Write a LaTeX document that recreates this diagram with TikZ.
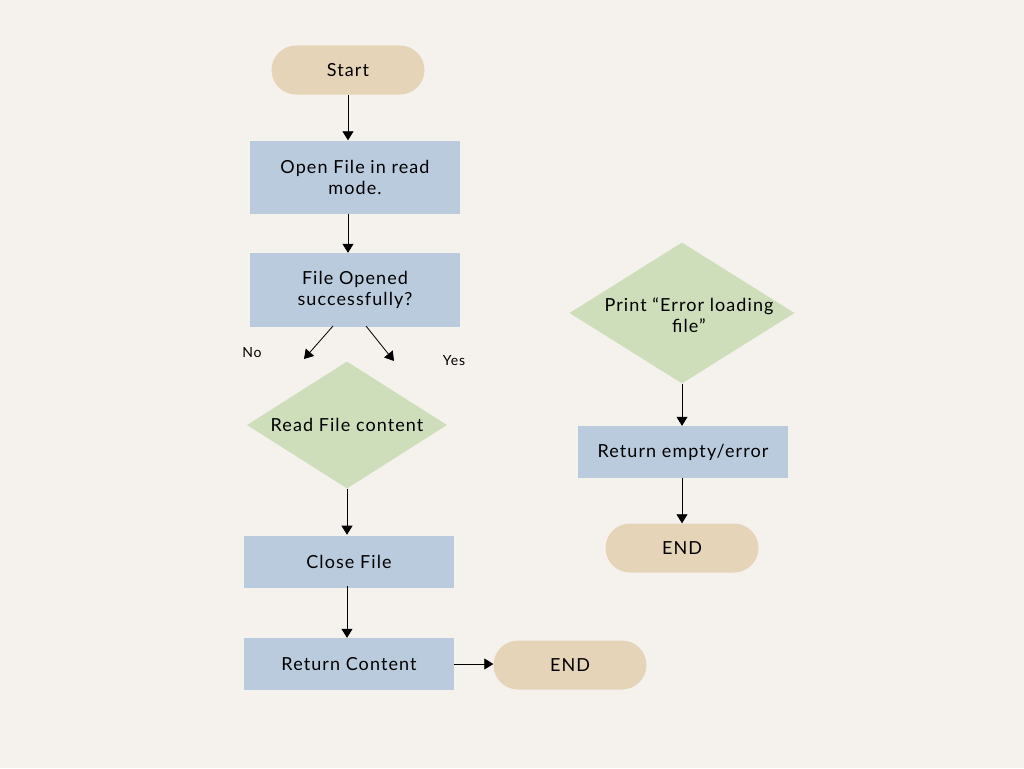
\documentclass[tikz,border=0pt]{standalone}
\usepackage{fontspec}
\setmainfont[LetterSpace=6]{Lato}
\usetikzlibrary{arrows.meta,shapes.geometric}

\definecolor{bgcol}{HTML}{F5F2EE}
\definecolor{pillcol}{HTML}{E6D4B9}
\definecolor{boxcol}{HTML}{BACBDE}
\definecolor{diacol}{HTML}{CEDDBA}

\begin{document}
\begin{tikzpicture}[x=1pt,y=-1pt,
    font=\fontsize{18}{21}\selectfont,
    pill/.style={fill=pillcol,rounded corners=24.5pt,minimum width=153pt,minimum height=49pt,inner sep=0pt},
    box/.style={fill=boxcol,minimum width=210pt,inner sep=0pt,align=center},
    dia/.style={diamond,fill=diacol,inner sep=0pt,align=center},
    lbl/.style={font=\fontsize{14}{16}\selectfont},
    arr/.style={-{Triangle[length=9pt,width=11pt]},line width=0.8pt}]
  % background
  \fill[bgcol] (0,0) rectangle (1024,768);
  \useasboundingbox (0,0) rectangle (1024,768);

  % left column
  \node[pill] (start) at (348,70) {Start};
  \node[box,minimum height=73pt] (open) at (355,177) {Open File in read\\mode.};
  \node[box,minimum height=74pt] (ok) at (355,290) {File Opened\\successfully?};
  \node[dia,minimum width=200pt,minimum height=127pt,aspect=1.575] (read) at (347,425) {Read File content};
  \node[box,minimum height=52pt] (close) at (349,562) {Close File};
  \node[box,minimum height=52pt] (ret) at (349,664) {Return Content};
  \node[pill] (end1) at (570,665) {END};

  % right column
  \node[dia,minimum width=225pt,minimum height=141pt,aspect=1.6] (print) at (682,313) {};
  \node[align=center] (printtxt) at (689,315) {Print “Error loading\\file”};
  \node[box,minimum height=52pt] (retempty) at (683,452) {Return empty/error};
  \node[pill] (end2) at (682,548) {END};

  % labels
  \node[lbl] (no) at (252,353) {No};
  \node[lbl] (yes) at (454,361) {Yes};
  \coordinate (nofrom) at (333,326);
  \coordinate (noto) at (304,359);
  \coordinate (yesfrom) at (366,326);
  \coordinate (yesto) at (394,361);

  % arrows
  \draw[arr] (start.south -| 348,0) -- (open.north -| 348,0);
  \draw[arr] (open.south -| 348,0) -- (ok.north -| 348,0);
  \draw[arr] (nofrom) -- (noto);
  \draw[arr] (yesfrom) -- (yesto);
  \draw[arr] (read.south) -- ++(0,46);
  \draw[arr] ([yshift=2pt]close.south -| 347,0) -- (ret.north -| 347,0);
  \draw[arr] (ret.east) -- (ret.east -| end1.west);
  \draw[arr] (print.south) -- (print.south |- retempty.north);
  \draw[arr] (retempty.south -| print.south) -- (end2.north -| print.south);
\end{tikzpicture}
\end{document}
